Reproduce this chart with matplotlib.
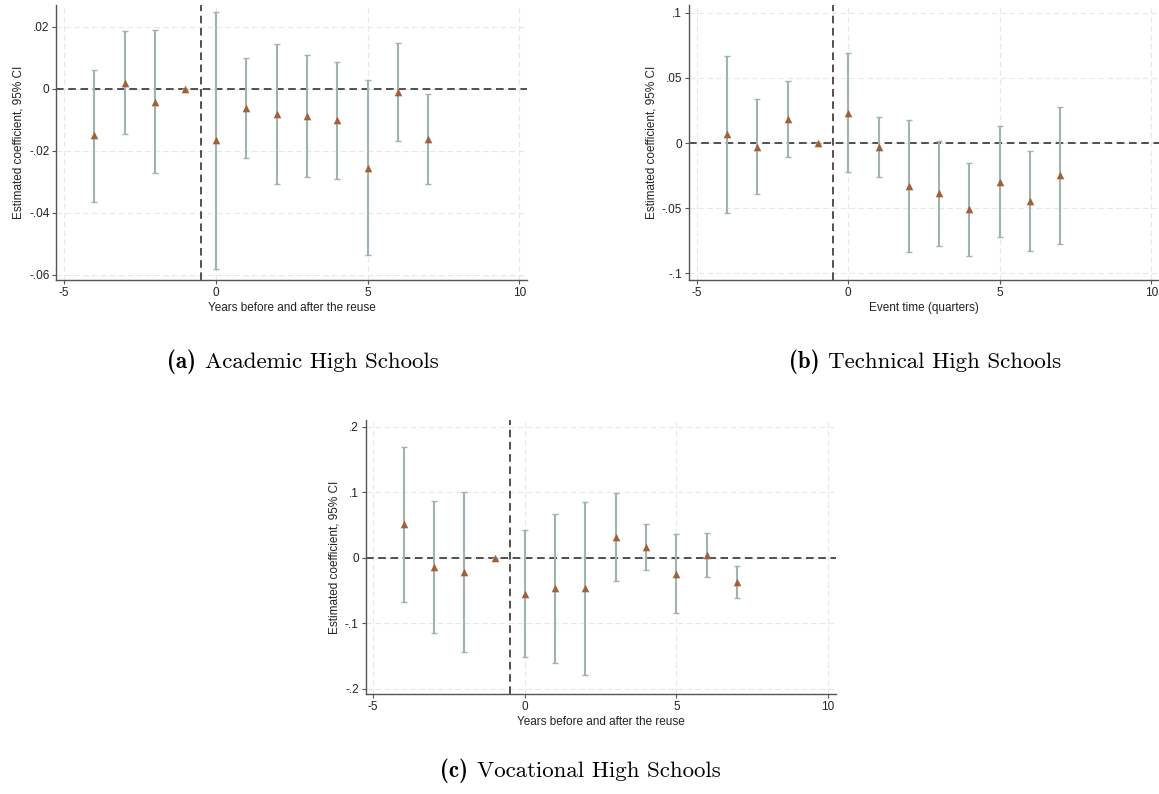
"""Event-study coefficient plots by high-school type (three panels)."""

import matplotlib.pyplot as plt
from matplotlib.ticker import FuncFormatter

plt.rcParams["font.family"] = ["Liberation Sans", "DejaVu Sans"]
plt.rcParams["axes.unicode_minus"] = False

event_time = [-4, -3, -2, -1, 0, 1, 2, 3, 4, 5, 6, 7]

academic_coef = [-0.0150, 0.0020, -0.0042, 0.0, -0.0166, -0.0063, -0.0081, -0.0089, -0.0102, -0.0255, -0.0011, -0.0162]
academic_lo = [-0.0364, -0.0146, -0.0272, 0.0, -0.0582, -0.0222, -0.0306, -0.0285, -0.0292, -0.0538, -0.0170, -0.0308]
academic_hi = [0.0061, 0.0185, 0.0188, 0.0, 0.0249, 0.0098, 0.0145, 0.0109, 0.0086, 0.0028, 0.0146, -0.0018]

technical_coef = [0.0068, -0.0028, 0.0186, 0.0, 0.0233, -0.0032, -0.0328, -0.0383, -0.0505, -0.0297, -0.0442, -0.0245]
technical_lo = [-0.0535, -0.0393, -0.0105, 0.0, -0.0225, -0.0262, -0.0835, -0.0790, -0.0868, -0.0720, -0.0828, -0.0775]
technical_hi = [0.0672, 0.0337, 0.0478, 0.0, 0.0690, 0.0198, 0.0178, 0.0018, -0.0153, 0.0128, -0.0058, 0.0275]

vocational_coef = [0.051, -0.014, -0.021, 0.0, -0.055, -0.046, -0.046, 0.032, 0.017, -0.0247, 0.005, -0.0366]
vocational_lo = [-0.068, -0.115, -0.143, 0.0, -0.151, -0.161, -0.178, -0.0356, -0.0186, -0.0845, -0.029, -0.062]
vocational_hi = [0.169, 0.087, 0.100, 0.0, 0.042, 0.067, 0.0845, 0.099, 0.0515, 0.036, 0.038, -0.0124]

x_ticks = [-5, 0, 5, 10]
academic_yticks = [-0.06, -0.04, -0.02, 0, 0.02]
technical_yticks = [-0.1, -0.05, 0, 0.05, 0.1]
vocational_yticks = [-0.2, -0.1, 0, 0.1, 0.2]

CI_COLOR = "#9fb5ac"
MARKER_COLOR = "#a35f37"
DASH = (0, (5, 3))


def stata_fmt(v, _pos):
    if abs(v) < 1e-12:
        return "0"
    s = f"{v:g}"
    return s.replace("0.", ".")


def draw_panel(ax, coef, lo, hi, yticks, ylim, xlabel):
    err = [[c - l for c, l in zip(coef, lo)], [h - c for c, h in zip(coef, hi)]]
    ax.errorbar(event_time, coef, yerr=err, fmt="none", ecolor=CI_COLOR,
                elinewidth=1.5, capsize=2.2, capthick=1.0, zorder=3)
    ax.scatter(event_time, coef, marker="^", s=30, color=MARKER_COLOR, zorder=4, linewidths=0)
    ax.axhline(0, color="#222222", lw=1.1, ls=DASH, zorder=2)
    ax.axvline(-0.5, color="#222222", lw=1.1, ls=DASH, zorder=2)

    ax.set_xlim(-5.25, 10.25)
    ax.set_ylim(*ylim)
    ax.set_xticks(x_ticks)
    ax.set_yticks(yticks)
    ax.yaxis.set_major_formatter(FuncFormatter(stata_fmt))
    ax.grid(True, color="#e8e8e8", ls=DASH, lw=0.8, zorder=0)
    ax.set_axisbelow(True)
    for side in ("top", "right"):
        ax.spines[side].set_visible(False)
    for side in ("left", "bottom"):
        ax.spines[side].set_color("#555555")
        ax.spines[side].set_linewidth(1.0)
    ax.tick_params(length=3, width=0.8, color="#555555", labelsize=8.5,
                   labelcolor="#222222", pad=2)
    ax.set_xlabel(xlabel, fontsize=8.5, color="#222222", labelpad=2)
    ax.set_ylabel("Estimated coefficient, 95% CI", fontsize=8.5, color="#222222", labelpad=3)


def caption(fig, xc, y, tag, title):
    # bold tag and roman title as two pieces, centred together at xc
    kw = dict(va="center", fontsize=16.5)
    t1 = fig.text(0, y, tag, family="cmb10", **kw)
    t2 = fig.text(0, y, title, family="cmr10", **kw)
    r = fig.canvas.get_renderer()
    w1 = t1.get_window_extent(r).width / fig.bbox.width
    w2 = t2.get_window_extent(r).width / fig.bbox.width
    gap = 9 / fig.bbox.width
    x0 = xc - (w1 + gap + w2) / 2
    t1.set_x(x0)
    t2.set_x(x0 + w1 + gap)


fig = plt.figure(figsize=(11.59, 7.94), dpi=100)

ax_a = fig.add_axes([0.0487, 0.6474, 0.4060, 0.3463])
ax_b = fig.add_axes([0.5945, 0.6474, 0.4055, 0.3463])
ax_c = fig.add_axes([0.3155, 0.1256, 0.4055, 0.3455])

draw_panel(ax_a, academic_coef, academic_lo, academic_hi, academic_yticks,
           (-0.0617, 0.0270), "Years before and after the reuse")
draw_panel(ax_b, technical_coef, technical_lo, technical_hi, technical_yticks,
           (-0.1052, 0.1060), "Event time (quarters)")
draw_panel(ax_c, vocational_coef, vocational_lo, vocational_hi, vocational_yticks,
           (-0.2081, 0.2102), "Years before and after the reuse")

caption(fig, 303 / 1159, 1 - 362 / 794, "(a)", "Academic High Schools")
caption(fig, 925 / 1159, 1 - 362 / 794, "(b)", "Technical High Schools")
caption(fig, 580 / 1159, 1 - 771 / 794, "(c)", "Vocational High Schools")

fig.savefig("out.png", dpi=100)
plt.close(fig)
